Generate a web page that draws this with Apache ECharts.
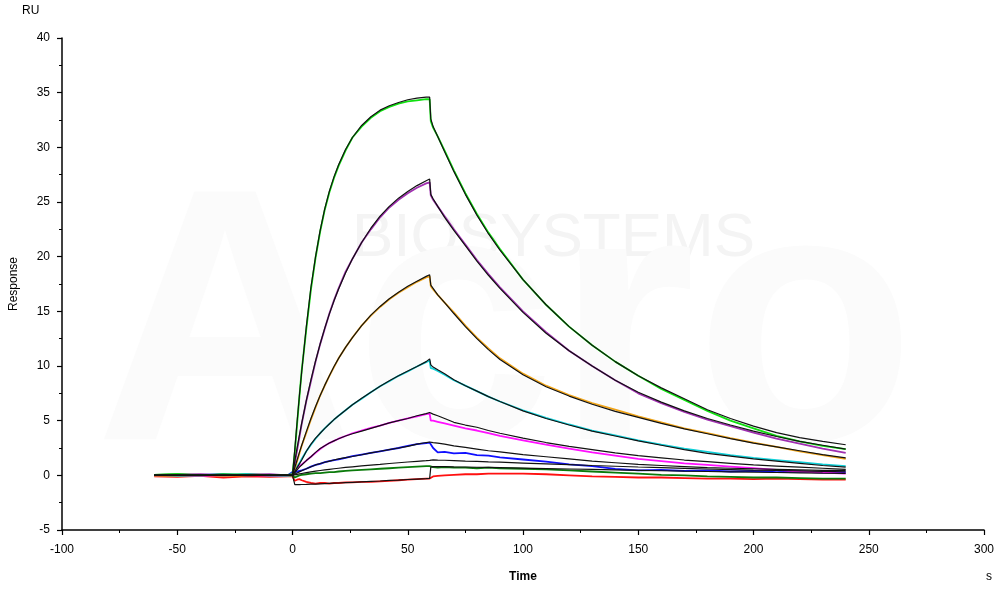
<!DOCTYPE html>
<html><head><meta charset="utf-8">
<script src="https://cdn.jsdelivr.net/npm/echarts@6/dist/echarts.min.js"></script>
<style>html,body{margin:0;padding:0;background:#fff}#c{width:1000px;height:589px}</style>
</head><body><div id="c"></div>
<script>
// Time (s)
const T = [-60,-50,-40,-30,-20,-10,-2, 0,1,2,3,4,6,8,10,12,14,16,18,20,23,26,30,34,38,42,46,50,54,58,59.5, 60,61,63,66,70,75,80,85,90,100,110,120,130,140,150,160,170,180,190,200,210,220,230,240];
const xTicks = [-100,-50,0,50,100,150,200,250,300];
const yTicks = [-5,0,5,10,15,20,25,30,35,40];

// measured sensorgrams (RU)
const dataGreen = [0.05,0.1,0.0,0.1,0.05,0.0,0.05, 0.1,2.1,4.7,7.2,9.6,13.4,17.0,19.9,22.3,24.3,25.9,27.2,28.3,29.7,30.9,31.9,32.7,33.3,33.7,34.0,34.2,34.3,34.4,34.4, 32.4,31.8,31.0,29.7,27.9,25.8,23.9,22.2,20.7,17.9,15.6,13.6,11.9,10.4,9.1,7.9,6.9,5.9,5.0,4.3,3.6,3.1,2.7,2.4];
const dataPurple = [0.0,0.05,0.1,0.0,0.05,0.1,0.0, 0.1,1.1,2.3,3.5,4.7,6.8,8.6,10.4,12.0,13.4,14.8,16.0,17.1,18.6,19.8,21.3,22.5,23.6,24.5,25.2,25.8,26.3,26.7,26.8, 25.6,25.2,24.6,23.7,22.5,21.1,19.7,18.4,17.2,15.0,13.1,11.4,10.0,8.7,7.5,6.6,5.8,5.1,4.5,3.9,3.35,2.9,2.45,2.05];
const dataOrange = [-0.05,0.0,0.05,-0.05,0.0,0.05,0.0, 0.0,0.6,1.3,2.0,2.7,3.9,5.1,6.2,7.3,8.2,9.1,9.9,10.7,11.7,12.6,13.7,14.6,15.4,16.1,16.7,17.2,17.7,18.1,18.2, 17.3,17.0,16.5,15.8,14.9,13.7,12.6,11.6,10.7,9.3,8.2,7.35,6.6,6.0,5.4,4.85,4.3,3.85,3.4,3.0,2.6,2.2,1.85,1.5];
const dataCyan = [0.05,-0.05,0.0,0.05,0.1,0.0,-0.05, 0.0,0.5,0.8,1.1,1.5,2.2,2.8,3.35,3.85,4.3,4.7,5.1,5.45,5.95,6.45,7.0,7.6,8.15,8.6,9.1,9.5,9.95,10.35,10.5, 9.8,9.75,9.55,9.2,8.7,8.2,7.7,7.2,6.75,5.95,5.25,4.65,4.1,3.65,3.2,2.8,2.45,2.15,1.85,1.6,1.4,1.2,1.0,0.85];
const dataMagenta = [0.0,0.05,-0.05,0.0,0.05,-0.05,0.0, 0.1,0.45,0.7,0.85,1.0,1.35,1.7,2.05,2.4,2.7,2.95,3.15,3.35,3.6,3.85,4.1,4.35,4.55,4.8,5.0,5.2,5.4,5.6,5.65, 5.0,5.0,4.9,4.75,4.55,4.3,4.1,3.85,3.6,3.2,2.8,2.45,2.1,1.8,1.5,1.3,1.1,0.95,0.8,0.65,0.5,0.35,0.25,0.15];
const dataBlue = [0.05,0.0,0.05,0.1,0.0,0.05,0.0, 0.3,0.3,0.35,0.4,0.45,0.6,0.8,0.95,1.05,1.2,1.3,1.4,1.45,1.6,1.75,1.9,2.05,2.2,2.35,2.5,2.7,2.85,2.95,3.0, 2.9,2.5,2.1,2.15,2.0,2.05,1.85,1.8,1.65,1.45,1.25,1.0,0.85,0.6,0.45,0.5,0.4,0.45,0.35,0.4,0.3,0.35,0.25,0.3];
const dataDkGreen = [0.05,0.1,0.05,0.0,0.1,0.05,0.0, 0.0,-0.2,-0.1,0.0,0.05,0.1,0.15,0.2,0.2,0.25,0.3,0.3,0.35,0.4,0.45,0.5,0.55,0.6,0.65,0.7,0.75,0.8,0.85,0.85, 0.7,0.75,0.7,0.75,0.7,0.7,0.65,0.7,0.65,0.6,0.55,0.45,0.35,0.25,0.15,0.05,0.0,-0.1,-0.15,-0.2,-0.2,-0.25,-0.3,-0.3];
const dataRed = [-0.1,-0.15,-0.05,-0.2,-0.1,-0.15,-0.1, -0.1,-0.5,-0.4,-0.35,-0.45,-0.6,-0.7,-0.75,-0.7,-0.7,-0.75,-0.7,-0.7,-0.65,-0.65,-0.6,-0.6,-0.55,-0.5,-0.45,-0.4,-0.35,-0.3,-0.3, -0.15,-0.1,-0.05,0.0,0.05,0.1,0.1,0.15,0.15,0.15,0.1,0.0,-0.1,-0.15,-0.2,-0.2,-0.25,-0.3,-0.3,-0.35,-0.3,-0.35,-0.4,-0.4];

// fitted curves (RU)
const fitGreen = [0,0,0,0,0,0,0, 0,2.4,4.9,7.3,9.5,13.6,17.2,20.0,22.4,24.4,26.0,27.3,28.4,29.8,30.9,32.0,32.8,33.4,33.8,34.1,34.35,34.5,34.6,34.6, 32.6,31.9,31.0,29.6,27.8,25.7,23.8,22.1,20.6,17.9,15.6,13.6,11.9,10.4,9.1,8.0,7.0,6.0,5.2,4.5,3.9,3.45,3.1,2.8];
const fitPurple = [0,0,0,0,0,0,0, 0,1.29,2.51,3.67,4.78,6.85,8.74,10.46,12.03,13.46,14.77,15.96,17.05,18.5,19.8,21.3,22.6,23.7,24.6,25.35,25.95,26.5,26.95,27.1, 25.7,25.3,24.6,23.6,22.4,21.0,19.6,18.3,17.1,14.9,13.0,11.4,10.0,8.7,7.6,6.7,5.9,5.2,4.6,4.05,3.55,3.1,2.75,2.4];
const fitOrange = [0,0,0,0,0,0,0, 0,0.7,1.4,2.1,2.75,4.0,5.2,6.3,7.3,8.25,9.1,9.95,10.7,11.7,12.6,13.7,14.65,15.45,16.15,16.75,17.3,17.75,18.2,18.35, 17.4,17.1,16.5,15.8,14.8,13.6,12.5,11.5,10.6,9.2,8.1,7.25,6.5,5.85,5.3,4.75,4.25,3.8,3.35,2.95,2.6,2.25,1.9,1.6];
const fitCyan = [0,0,0,0,0,0,0, 0,0.35,0.7,1.05,1.4,2.2,2.85,3.4,3.85,4.3,4.7,5.1,5.45,5.95,6.45,7.05,7.6,8.15,8.65,9.1,9.55,9.95,10.4,10.65, 10.1,9.9,9.65,9.3,8.75,8.2,7.7,7.2,6.75,5.9,5.2,4.6,4.05,3.6,3.15,2.75,2.35,2.0,1.75,1.5,1.3,1.1,0.9,0.75];
const fitMagenta = [0,0,0,0,0,0,0, 0,0.25,0.5,0.75,0.95,1.35,1.7,2.1,2.45,2.7,2.95,3.15,3.35,3.6,3.8,4.05,4.3,4.55,4.8,5.0,5.2,5.45,5.65,5.75, 5.7,5.6,5.45,5.2,4.85,4.6,4.4,4.1,3.85,3.4,3.0,2.65,2.35,2.05,1.8,1.6,1.4,1.25,1.1,0.95,0.85,0.75,0.65,0.55];
const fitBlue = [0,0,0,0,0,0,0, 0,0.12,0.22,0.32,0.42,0.6,0.78,0.95,1.08,1.2,1.3,1.4,1.5,1.62,1.72,1.88,2.05,2.2,2.35,2.5,2.65,2.85,3.0,3.05, 3.05,3.0,2.95,2.85,2.7,2.55,2.4,2.25,2.15,1.9,1.7,1.5,1.3,1.15,1.0,0.9,0.8,0.7,0.65,0.6,0.55,0.5,0.45,0.45];
const fitDkGreen = [0,0,0,0,0,0,0, 0,0.05,0.09,0.13,0.17,0.25,0.32,0.38,0.44,0.5,0.55,0.6,0.65,0.72,0.78,0.86,0.94,1.0,1.08,1.15,1.22,1.28,1.34,1.37, 1.4,1.42,1.4,1.38,1.35,1.3,1.27,1.23,1.2,1.12,1.05,0.98,0.9,0.83,0.76,0.7,0.64,0.58,0.53,0.48,0.44,0.4,0.36,0.33];
const fitRed = [0,0,0,0,0,0,0, 0,-0.85,-0.85,-0.85,-0.84,-0.83,-0.81,-0.8,-0.78,-0.76,-0.74,-0.72,-0.7,-0.67,-0.64,-0.6,-0.56,-0.52,-0.47,-0.43,-0.38,-0.34,-0.3,-0.28, 0.75,0.8,0.8,0.8,0.78,0.76,0.74,0.72,0.7,0.66,0.62,0.58,0.54,0.5,0.46,0.42,0.38,0.35,0.32,0.29,0.26,0.23,0.2,0.18];

const dataSets = [
  [dataRed, '#ff1010'], [dataDkGreen, '#0a7a0a'], [dataBlue, '#1010ff'], [dataMagenta, '#ff10ff'],
  [dataCyan, '#10d0d8'], [dataOrange, '#f0a418'], [dataPurple, '#a030b0'], [dataGreen, '#10e010']
];
const fitSets = [fitRed, fitDkGreen, fitBlue, fitMagenta, fitCyan, fitOrange, fitPurple, fitGreen];

const pair = arr => T.map((t, i) => [t, arr[i]]);
const series = [];
dataSets.forEach(([arr, col]) => series.push({
  type: 'line', data: pair(arr), showSymbol: false, symbol: 'none', z: 2,
  lineStyle: { color: col, width: 1.8 }
}));
fitSets.forEach(arr => series.push({
  type: 'line', data: pair(arr), showSymbol: false, symbol: 'none', z: 3,
  lineStyle: { color: '#111', width: 1.2 }
}));

const font = 'Liberation Sans, Arial, sans-serif';
const chart = echarts.init(document.getElementById('c'), null, { renderer: 'canvas' });
chart.setOption({
  animation: false,
  backgroundColor: '#fff',
  grid: { left: 60, right: 16, top: 38, bottom: 59, containLabel: false },
  graphic: [
    { type: 'text', left: 352, top: 208, z: 0, silent: true,
      style: { text: 'BIOSYSTEMS', font: '62px ' + font, fill: '#f4f4f4' } },
    { type: 'text', left: 95, top: 160, z: 0, silent: true,
      style: { text: 'Acro', font: 'bold 360px ' + font, fill: '#fbfbfb' } },
    { type: 'text', left: 22, top: 5, style: { text: 'RU', font: '12px ' + font, fill: '#000' } },
    { type: 'text', left: 986, top: 571, style: { text: 's', font: '12px ' + font, fill: '#000' } }
  ],
  xAxis: {
    type: 'value', min: xTicks[0], max: xTicks[xTicks.length - 1], interval: 50,
    name: 'Time', nameLocation: 'middle', nameGap: 41,
    nameTextStyle: { fontFamily: font, fontSize: 12, fontWeight: 'bold', color: '#000' },
    axisLine: { onZero: false, lineStyle: { color: '#000', width: 1.5 } },
    axisTick: { show: true, length: 5, lineStyle: { color: '#000', width: 1.2 } },
    minorTick: { show: true, splitNumber: 2, length: 3, lineStyle: { color: '#000' } },
    splitLine: { show: false },
    axisLabel: { fontFamily: font, fontSize: 12, color: '#000', margin: 14 }
  },
  yAxis: {
    type: 'value', min: yTicks[0], max: yTicks[yTicks.length - 1], interval: 5,
    name: 'Response', nameLocation: 'middle', nameGap: 42, nameRotate: 90,
    nameTextStyle: { fontFamily: font, fontSize: 12, color: '#000' },
    axisLine: { show: true, onZero: false, lineStyle: { color: '#000', width: 1.5 } },
    axisTick: { show: true, length: 5, lineStyle: { color: '#000', width: 1.2 } },
    minorTick: { show: true, splitNumber: 2, length: 3, lineStyle: { color: '#000' } },
    splitLine: { show: false },
    axisLabel: { fontFamily: font, fontSize: 12, color: '#000', margin: 12 }
  },
  series: series
});
</script>
</body></html>
